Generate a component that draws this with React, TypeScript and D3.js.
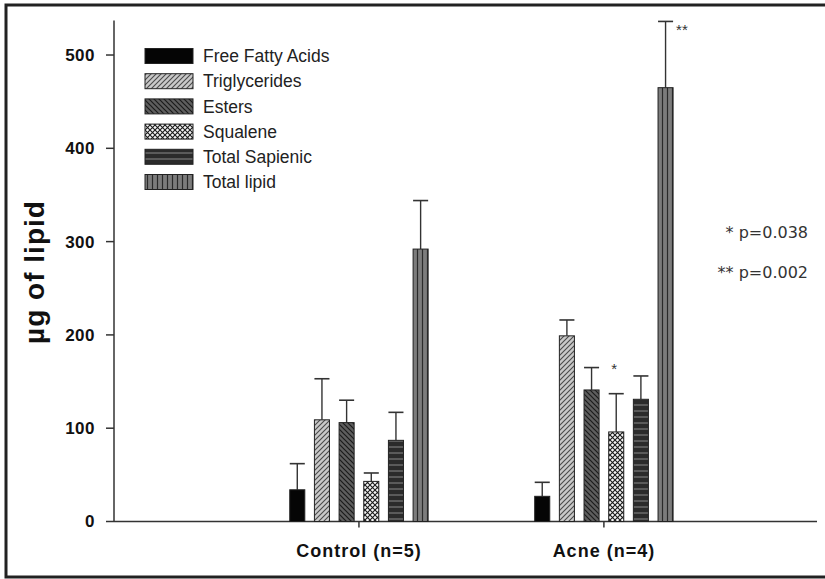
import React from "react";
import * as d3 from "d3";

const groups = ["Control (n=5)", "Acne (n=4)"];
const series = ["Free Fatty Acids", "Triglycerides", "Esters", "Squalene", "Total Sapienic", "Total lipid"];
const controlMean = [34, 109, 106, 43, 87, 292];
const controlErr = [62, 153, 130, 52, 117, 344];
const acneMean = [27, 199, 141, 96, 131, 465];
const acneErr = [42, 216, 165, 137, 156, 536];
const yTicks = [0, 100, 200, 300, 400, 500];
const starLabels = ["", "", "", "*", "", "**"];
const pValues = ["* p=0.038", "** p=0.002"];

const W = 825;
const H = 579;

const fills = ["url(#pFFA)", "url(#pTG)", "url(#pES)", "url(#pSQ)", "url(#pSA)", "url(#pTL)"];

export default function App() {
  const y = d3.scaleLinear().domain([0, 540]).range([521.5, 17.7]);
  const x = d3.scaleLinear().domain([0, 2.87]).range([114, 817]);
  const inner = d3.scaleBand<number>().domain(d3.range(6)).range([-74, 74]).paddingInner(0.39).paddingOuter(0.195);
  const bw = inner.bandwidth();
  const data = [
    { g: groups[0], mean: controlMean, err: controlErr, idx: 1 },
    { g: groups[1], mean: acneMean, err: acneErr, idx: 2 },
  ];
  const y0 = y(0);
  const font = "'Liberation Sans', Arial, sans-serif";
  return (
    <svg width={W} height={H} style={{ position: "absolute", left: 0, top: 0, background: "#fff" }}>
      <defs>
        <pattern id="pFFA" patternUnits="userSpaceOnUse" width={5} height={5}>
          <rect width={5} height={5} fill="#050505" />
        </pattern>
        <pattern id="pTG" patternUnits="userSpaceOnUse" width={5} height={5}>
          <rect width={5} height={5} fill="#c9c9c9" />
          <path d="M0,5 L5,0 M-1,1 L1,-1 M4,6 L6,4" stroke="#4a4a4a" strokeWidth={1.1} />
        </pattern>
        <pattern id="pES" patternUnits="userSpaceOnUse" width={5} height={5}>
          <rect width={5} height={5} fill="#5e5e5e" />
          <path d="M0,0 L5,5 M-1,4 L1,6 M4,-1 L6,1" stroke="#1a1a1a" strokeWidth={1.2} />
        </pattern>
        <pattern id="pSQ" patternUnits="userSpaceOnUse" width={5} height={5}>
          <rect width={5} height={5} fill="#f4f4f4" />
          <path d="M0,0 L5,5 M0,5 L5,0" stroke="#1a1a1a" strokeWidth={1.1} />
        </pattern>
        <pattern id="pSA" patternUnits="userSpaceOnUse" width={6} height={6}>
          <rect width={6} height={6} fill="#2b2b2b" />
          <path d="M0,3 L6,3" stroke="#8a8a8a" strokeWidth={1} />
        </pattern>
        <pattern id="pTL" patternUnits="userSpaceOnUse" width={5} height={5}>
          <rect width={5} height={5} fill="#7c7c7c" />
          <path d="M2.5,0 L2.5,5" stroke="#2a2a2a" strokeWidth={1.2} />
        </pattern>
      </defs>
      <rect x={6} y={5} width={840} height={572} fill="none" stroke="#222" strokeWidth={3} />

      {/* axes */}
      <line x1={114} x2={114} y1={y0} y2={y(537)} stroke="#333" strokeWidth={1.5} />
      <line x1={114} x2={817} y1={y0} y2={y0} stroke="#333" strokeWidth={1.5} />
      {yTicks.map((t) => (
        <g key={t}>
          <line x1={106} x2={114} y1={y(t)} y2={y(t)} stroke="#333" strokeWidth={1.5} />
          <text x={95} y={y(t)} dy="0.35em" textAnchor="end" fontFamily={font} fontWeight="bold" fontSize={17} letterSpacing={0.5} fill="#111">
            {t}
          </text>
        </g>
      ))}
      {data.map((d) => (
        <g key={d.g}>
          <line x1={x(d.idx)} x2={x(d.idx)} y1={y0} y2={y0 + 6} stroke="#333" strokeWidth={1.5} />
          <text x={x(d.idx)} y={551} dy="0.35em" textAnchor="middle" fontFamily={font} fontWeight="bold" fontSize={18} letterSpacing={1} fill="#111">
            {d.g}
          </text>
        </g>
      ))}
      <text
        transform={`translate(34,${272}) rotate(-90)`}
        textAnchor="middle"
        dy="0.35em"
        fontFamily={font}
        fontWeight="bold"
        fontSize={28}
        letterSpacing={1}
        fill="#111"
      >
        µg of lipid
      </text>

      {/* bars */}
      {data.map((d) =>
        series.map((s, i) => {
          const bx = x(d.idx) + (inner(i) as number);
          const cx = bx + bw / 2;
          return (
            <g key={d.g + s}>
              <line x1={cx} x2={cx} y1={y(d.mean[i])} y2={y(d.err[i])} stroke="#333" strokeWidth={1.4} />
              <line x1={bx} x2={bx + bw} y1={y(d.err[i])} y2={y(d.err[i])} stroke="#333" strokeWidth={1.6} />
              <rect x={bx} y={y(d.mean[i])} width={bw} height={y0 - y(d.mean[i])} fill={fills[i]} stroke="#222" strokeWidth={1} />
            </g>
          );
        })
      )}
      {series.map((s, i) => {
        if (!starLabels[i]) return null;
        const bx = x(2) + (inner(i) as number);
        const isTop = i === 5;
        return (
          <text
            key={"star" + i}
            x={isTop ? bx + bw + 3 : bx + bw / 2 - 2}
            y={isTop ? y(acneErr[i]) + 14 : y(acneErr[i]) - 20}
            textAnchor={isTop ? "start" : "middle"}
            fontFamily={font}
            fontSize={15}
            fill="#333"
          >
            {starLabels[i]}
          </text>
        );
      })}

      {/* legend */}
      {series.map((s, i) => {
        const cy = 56 + i * 25.2;
        return (
          <g key={"lg" + s}>
            <rect x={145} y={cy - 7.5} width={48} height={15} fill={fills[i]} stroke="#222" strokeWidth={1} />
            <text x={203} y={cy} dy="0.35em" fontFamily={font} fontSize={17.5} fill="#222">
              {s}
            </text>
          </g>
        );
      })}

      {/* p values */}
      {pValues.map((p, i) => (
        <text key={p} x={808} y={232 + i * 40} dy="0.35em" textAnchor="end" fontFamily="'DejaVu Sans', sans-serif" fontSize={16} fill="#333">
          {p}
        </text>
      ))}
    </svg>
  );
}
